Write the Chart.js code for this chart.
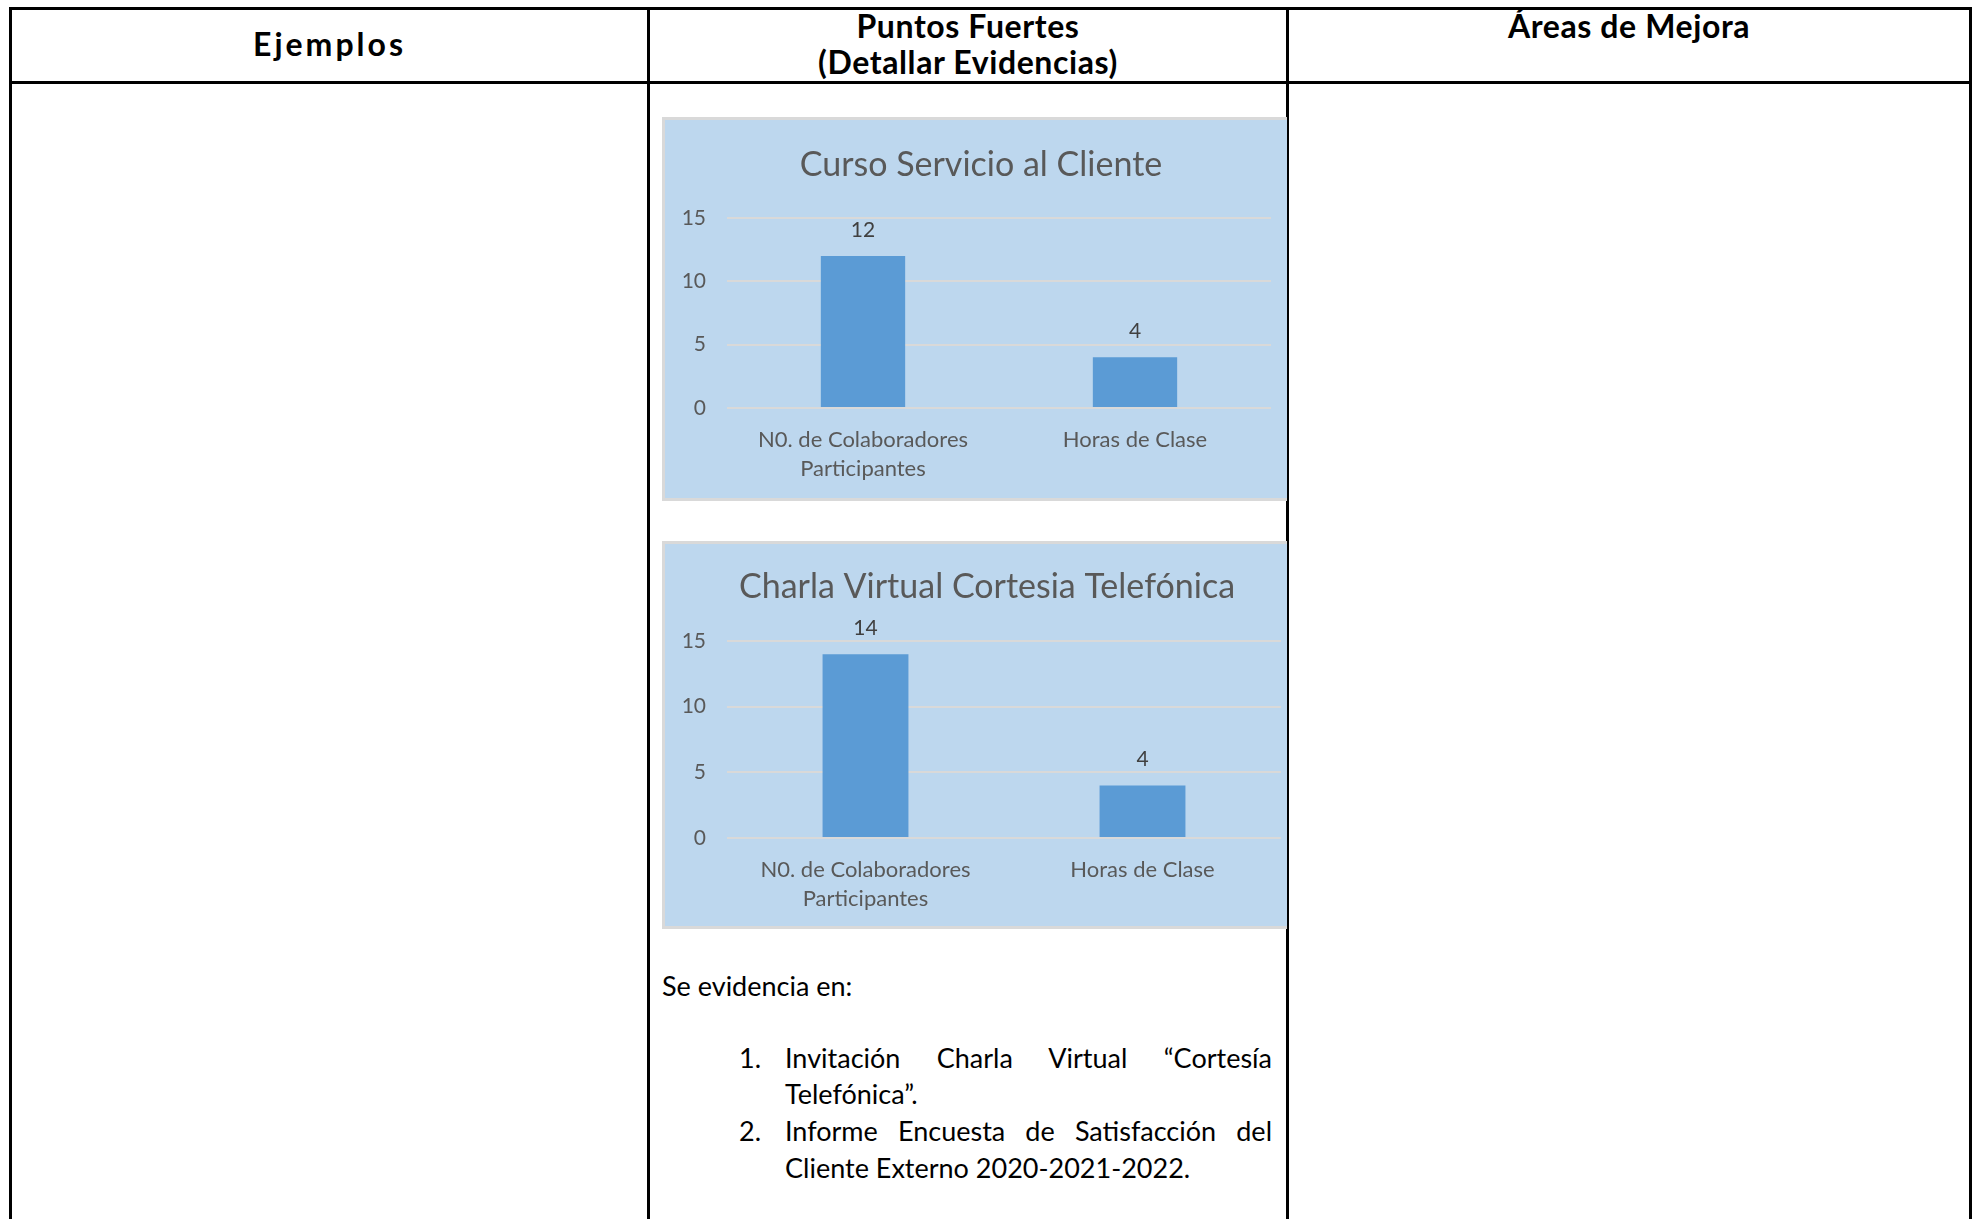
<!DOCTYPE html>
<html lang="es">
<head>
<meta charset="utf-8">
<title>Puntos Fuertes</title>
<script src="https://cdn.jsdelivr.net/npm/chart.js@4.4.0/dist/chart.umd.min.js"></script>
<style>
html, body { margin: 0; padding: 0; background: #fff; }
body { width: 1977px; height: 1219px; position: relative; overflow: hidden; font-family: Lato, "Open Sans", sans-serif; color: #000; }
.linea { position: absolute; background: #000; }
.cab { position: absolute; font-weight: bold; font-size: 32px; text-align: center; line-height: 36px; letter-spacing: 0.6px; }
.caja { position: absolute; background: #bdd7ee; border: 3px solid #d9d9d9; border-right: none; box-sizing: border-box; }
canvas.graf { position: absolute; }
.txt { position: absolute; font-size: 27px; line-height: 36px; white-space: nowrap; }
.just { text-align: justify; text-align-last: justify; }
</style>
</head>
<body>

<!-- bordes de la tabla -->
<div class="linea" style="left:9px; top:7px; width:1963px; height:3px;"></div>
<div class="linea" style="left:9px; top:81px; width:1963px; height:3px;"></div>
<div class="linea" style="left:9px; top:7px; width:3px; height:1212px;"></div>
<div class="linea" style="left:647px; top:7px; width:3px; height:1212px;"></div>
<div class="linea" style="left:1286px; top:7px; width:3px; height:1212px;"></div>
<div class="linea" style="left:1969px; top:7px; width:3px; height:1212px;"></div>

<div class="cab" style="left:12px; width:635px; top:26px; letter-spacing:3px;">Ejemplos</div>
<div class="cab" style="left:650px; width:636px; top:8px;">Puntos Fuertes<br>(Detallar Evidencias)</div>
<div class="cab" style="left:1289px; width:680px; top:8px;">Áreas de Mejora</div>

<div class="caja" style="left:662px; top:117px; width:625px; height:384px;"></div>
<canvas id="grafCurso" class="graf" width="625" height="384" style="left:662px; top:117px;"></canvas>

<div class="caja" style="left:662px; top:541px; width:625px; height:388px;"></div>
<canvas id="grafCharla" class="graf" width="625" height="388" style="left:662px; top:541px;"></canvas>

<div class="txt" style="left:662px; top:968px;">Se evidencia en:</div>
<div class="txt" style="left:739px; top:1040px;">1.</div>
<div class="txt just" style="left:785px; top:1040px; width:487px;">Invitación Charla Virtual “Cortesía</div>
<div class="txt" style="left:785px; top:1076px;">Telefónica”.</div>
<div class="txt" style="left:739px; top:1113px;">2.</div>
<div class="txt just" style="left:785px; top:1113px; width:487px;">Informe Encuesta de Satisfacción del</div>
<div class="txt" style="left:785px; top:1150px;">Cliente Externo 2020-2021-2022.</div>

<script>
// datos de las dos gráficas
const categorias = [['N0. de Colaboradores', 'Participantes'], 'Horas de Clase'];
const cursoValores = [12, 4];
const charlaValores = [14, 4];
const ticksY = [0, 5, 10, 15];

const azulBarra = '#5b9bd5';
const grisTexto = '#595959';
const grisRejilla = '#d9d9d9';

// número encima de cada barra
const etiquetasValor = {
	id: 'etiquetasValor',
	afterDatasetsDraw(chart) {
		const ctx = chart.ctx;
		const datos = chart.data.datasets[0].data;
		chart.getDatasetMeta(0).data.forEach(function (barra, i) {
			ctx.save();
			ctx.fillStyle = '#404040';
			ctx.font = '21px Lato';
			ctx.textAlign = 'center';
			ctx.textBaseline = 'middle';
			ctx.fillText(datos[i], barra.x, barra.y - 26);
			ctx.restore();
		});
	}
};

// título centrado en el recuadro completo, no en el área de la gráfica
const tituloCaja = {
	id: 'tituloCaja',
	afterDraw(chart, args, opts) {
		const ctx = chart.ctx;
		ctx.save();
		ctx.fillStyle = grisTexto;
		ctx.font = '34px Lato';
		ctx.textAlign = 'center';
		ctx.textBaseline = 'middle';
		ctx.fillText(opts.texto, opts.x, opts.y);
		ctx.restore();
	}
};

function crearGrafica(id, titulo, valores, cfg) {
	return new Chart(document.getElementById(id), {
		type: 'bar',
		data: {
			labels: categorias,
			datasets: [{
				data: valores,
				backgroundColor: azulBarra,
				barPercentage: 0.31,
				categoryPercentage: 1
			}]
		},
		options: {
			responsive: false,
			animation: false,
			layout: { padding: { left: 0, right: cfg.derecha, top: cfg.arriba, bottom: 0 } },
			plugins: {
				legend: { display: false },
				tooltip: { enabled: false },
				title: { display: false },
				tituloCaja: { texto: titulo, x: cfg.tituloX, y: cfg.tituloY }
			},
			scales: {
				x: {
					grid: { display: false, drawTicks: false },
					border: { display: false },
					ticks: {
						color: grisTexto,
						padding: 17,
						maxRotation: 0,
						font: { family: 'Lato', size: 22, lineHeight: 1.33 }
					},
					afterFit: function (s) { s.height = cfg.altoX; }
				},
				y: {
					min: 0,
					max: 15,
					afterBuildTicks: function (s) { s.ticks = ticksY.map(function (v) { return { value: v }; }); },
					grid: { color: grisRejilla, lineWidth: 2, drawTicks: false },
					border: { display: false },
					ticks: {
						color: grisTexto,
						padding: 21,
						font: { family: 'Lato', size: 21 }
					},
					afterFit: function (s) { s.width = 65; }
				}
			}
		},
		plugins: [etiquetasValor, tituloCaja]
	});
}

crearGrafica('grafCurso', 'Curso Servicio al Cliente', cursoValores,
	{ derecha: 16, arriba: 101, altoX: 93, tituloX: 319, tituloY: 48.5 });
crearGrafica('grafCharla', 'Charla Virtual Cortesia Telefónica', charlaValores,
	{ derecha: 6, arriba: 100, altoX: 91, tituloX: 325, tituloY: 46.5 });
</script>
</body>
</html>
